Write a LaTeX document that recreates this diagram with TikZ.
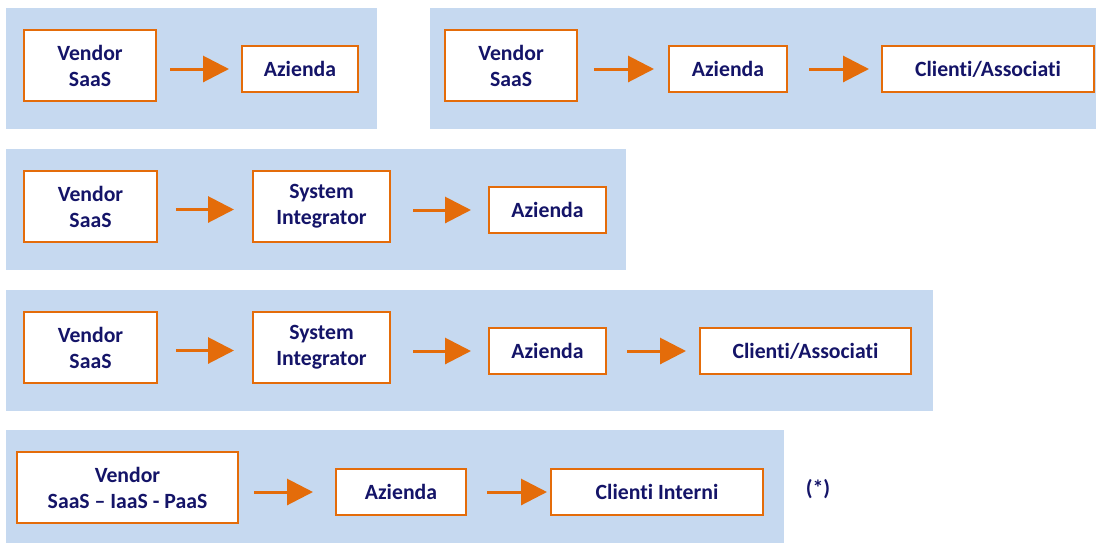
\documentclass[tikz,border=0pt]{standalone}
\usepackage{fontspec}
\setmainfont[Ligatures=NoCommon]{Carlito}
\usetikzlibrary{arrows.meta}
\definecolor{panelblue}{HTML}{C6D9F0}
\definecolor{floworange}{HTML}{E46C0A}
\definecolor{inknavy}{RGB}{20,20,104}
\tikzset{
  panel/.style={fill=panelblue, draw=none},
  actor/.style={draw=floworange, line width=1.5pt, fill=white, text=inknavy,
    font=\fontsize{16.3}{19.5}\selectfont\bfseries, align=center, inner sep=0pt},
  tall/.style={minimum height=53.25pt},
  short/.style={minimum height=34.5pt},
  flow/.style={draw=floworange, line width=2.25pt,
    -{Triangle[length=19.5pt,width=19.5pt]}},
}
\begin{document}
\begin{tikzpicture}[x=0.75pt,y=-0.75pt]
\useasboundingbox (0,0) rectangle (1096,544);

% background bands
\fill[panel] (6,8) rectangle (377,129);
\fill[panel] (430,8) rectangle (1096,129);
\fill[panel] (6,149) rectangle (626,270);
\fill[panel] (6,290) rectangle (933,411);
\fill[panel] (6,430) rectangle (784,543);

% row 1
\node[actor,tall,minimum width=99pt] (v1) at (90,65.5) {Vendor\\SaaS};
\node[actor,short,minimum width=87pt] (a1) at (300,69) {Azienda};
\draw[flow,shorten <=9.75pt,shorten >=9pt] (v1.east |- a1.west) -- (a1.west);

% row 2
\node[actor,tall,minimum width=99pt] (v2) at (511,65.5) {Vendor\\SaaS};
\node[actor,short,minimum width=88.5pt] (a2) at (728,69) {Azienda};
\node[actor,short,minimum width=159pt] (c2) at (988,69) {Clienti/Associati};
\draw[flow,shorten <=12pt,shorten >=10.5pt] (v2.east |- a2.west) -- (a2.west);
\draw[flow,shorten <=15.75pt,shorten >=9pt] (a2.east) -- (c2.west);

% row 3
\node[actor,tall,minimum width=99.75pt] (v3) at (90.5,206.5) {Vendor\\SaaS};
\node[actor,tall,minimum width=102.75pt] (s3) at (321.5,206.5) {System\\Integrator};
\node[actor,short,minimum width=87.75pt] (a3) at (547.5,210) {Azienda};
\draw[flow,shorten <=13.5pt,shorten >=13.5pt] ([yshift=-2.25pt]v3.east) -- ([yshift=-2.25pt]s3.west);
\draw[flow,shorten <=16.5pt,shorten >=12.75pt] (s3.east |- a3.west) -- (a3.west);

% row 4
\node[actor,tall,minimum width=99.75pt] (v4) at (90.5,347.5) {Vendor\\SaaS};
\node[actor,tall,minimum width=102.75pt] (s4) at (321.5,347.5) {System\\Integrator};
\node[actor,short,minimum width=87.75pt] (a4) at (547.5,351) {Azienda};
\node[actor,short,minimum width=158.25pt] (c4) at (805.5,351) {Clienti/Associati};
\draw[flow,shorten <=13.5pt,shorten >=13.5pt] ([yshift=-2.25pt]v4.east) -- ([yshift=-2.25pt]s4.west);
\draw[flow,shorten <=16.5pt,shorten >=12.75pt] (s4.east |- a4.west) -- (a4.west);
\draw[flow,shorten <=15pt,shorten >=9.75pt] (a4.east) -- (c4.west);

% row 5
\node[actor,tall,minimum width=165.75pt] (v5) at (127.5,487.5) {Vendor\\SaaS -- IaaS - PaaS};
\node[actor,short,minimum width=97.5pt] (a5) at (401,492) {Azienda};
\node[actor,short,minimum width=159pt] (c5) at (657,492) {Clienti Interni};
\draw[flow,shorten <=11.25pt,shorten >=16.5pt] (v5.east |- a5.west) -- (a5.west);
\draw[flow,shorten <=15pt,shorten >=2.25pt] (a5.east) -- (c5.west);
\node[text=inknavy,font=\fontsize{16.3}{19.5}\selectfont\bfseries] (note) at (818,489) {(*)};
\end{tikzpicture}
\end{document}
